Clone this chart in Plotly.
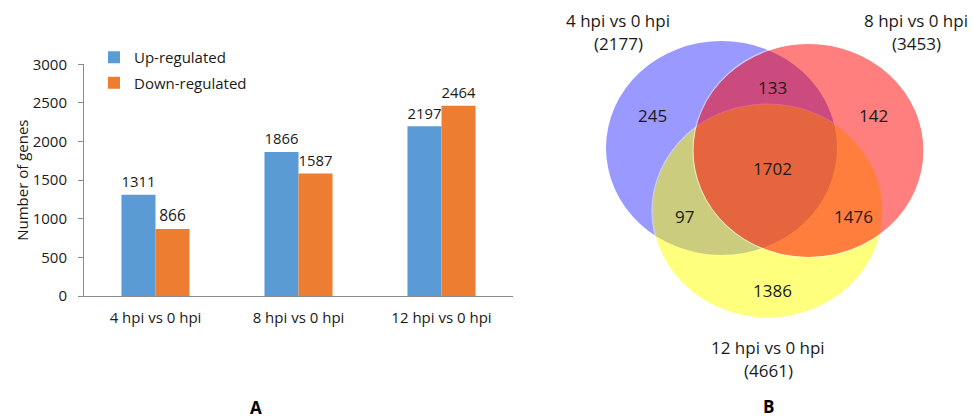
import plotly.graph_objects as go

# ---- Panel A: differentially expressed genes per comparison ----
comparisons = ["4 hpi vs 0 hpi", "8 hpi vs 0 hpi", "12 hpi vs 0 hpi"]
up_regulated = [1311, 1866, 2197]
down_regulated = [866, 1587, 2464]

# ---- Panel B: Venn diagram region counts ----
set_titles = ["4 hpi vs 0 hpi", "8 hpi vs 0 hpi", "12 hpi vs 0 hpi"]
set_totals = [2177, 3453, 4661]
region_names = ["4 only", "8 only", "12 only", "4&8", "4&12", "8&12", "all"]
region_counts = [245, 142, 1386, 133, 97, 1476, 1702]

W, H = 972, 418
FONT = "Open Sans"
TXT = "#1a1a1a"

fig = go.Figure()

fig.add_trace(go.Bar(
    name="Up-regulated", x=comparisons, y=up_regulated,
    marker=dict(color="#5B9BD5", line=dict(width=0)),
    text=up_regulated, textposition="outside", cliponaxis=False,
    textfont=dict(family=FONT, size=15.5, color=TXT),
    legendgroup="up",
))
fig.add_trace(go.Bar(
    name="Down-regulated", x=comparisons, y=down_regulated,
    marker=dict(color="#ED7D31", line=dict(width=0)),
    text=down_regulated, textposition="outside", cliponaxis=False,
    textfont=dict(family=FONT, size=15.5, color=TXT),
    legendgroup="down",
))

axis_grey = "#8a8a8a"
fig.update_layout(
    width=W, height=H,
    margin=dict(l=0, r=0, t=0, b=0, pad=0, autoexpand=False),
    paper_bgcolor="white", plot_bgcolor="white",
    font=dict(family=FONT, size=15, color=TXT),
    barmode="group", bargap=0.524, bargroupgap=0,
    showlegend=True,
    legend=dict(
        x=94 / W, y=1 - 41 / H, xanchor="left", yanchor="top",
        font=dict(family=FONT, size=15, color=TXT),
        bgcolor="rgba(0,0,0,0)", tracegroupgap=3,
    ),
    xaxis=dict(
        domain=[84 / W, 513 / W], range=[-0.5, 2.5],
        showline=True, linecolor=axis_grey, linewidth=1,
        ticks="", showgrid=False, zeroline=False, automargin=False,
        ticklabelstandoff=8,
        tickfont=dict(family=FONT, size=15, color=TXT),
        anchor="y", fixedrange=True,
    ),
    yaxis=dict(
        domain=[1 - 296 / H, 1 - 64.3 / H], range=[0, 3000], dtick=500,
        showline=True, linecolor=axis_grey, linewidth=1,
        ticks="outside", ticklen=5, tickcolor=axis_grey,
        ticklabelstandoff=8,
        showgrid=False, zeroline=False, automargin=False,
        tickfont=dict(family=FONT, size=15, color=TXT),
        title=dict(text="Number of genes", standoff=0,
                   font=dict(family=FONT, size=15, color=TXT)),
        anchor="x", fixedrange=True,
    ),
    # pixel-like frame for the Venn panel
    xaxis2=dict(domain=[560 / W, 1], range=[560, W], visible=False,
                anchor="y2", fixedrange=True, automargin=False),
    yaxis2=dict(domain=[0, 1], range=[H, 0], visible=False,
                anchor="x2", fixedrange=True, automargin=False),
)

# Venn circles (drawn in order blue, yellow, red so blends come out right)
RX, RY = 115.5, 107
circles = [
    dict(cx=721.5, cy=148, color="rgb(0,0,255)", opacity=0.4, line=0),
    dict(cx=767.5, cy=211, color="rgb(255,255,0)", opacity=0.5, line=1.2),
    dict(cx=808.5, cy=150.5, color="rgb(255,0,0)", opacity=0.5, line=1.2),
]
for c in circles:
    fig.add_shape(
        type="circle", xref="x2", yref="y2",
        x0=c["cx"] - RX, x1=c["cx"] + RX, y0=c["cy"] - RY, y1=c["cy"] + RY,
        fillcolor=c["color"], opacity=c["opacity"],
        line=dict(color="white", width=c["line"]),
        layer="above",
    )

# set titles with totals
title_pos = [(618, 20, 43), (916, 20, 43), (768, 347, 370)]
for (tx, ty1, ty2), name, total in zip(title_pos, set_titles, set_totals):
    fig.add_annotation(x=tx, y=ty1, xref="x2", yref="y2", text=name,
                       showarrow=False, font=dict(family=FONT, size=17, color=TXT))
    fig.add_annotation(x=tx, y=ty2, xref="x2", yref="y2", text=f"({total})",
                       showarrow=False, font=dict(family=FONT, size=17, color=TXT))

# region counts
region_pos = {
    "4 only": (652, 115), "8 only": (873, 115), "12 only": (772, 290),
    "4&8": (772, 87), "4&12": (684, 216), "8&12": (853, 216), "all": (772, 168),
}
for name, count in zip(region_names, region_counts):
    px, py = region_pos[name]
    fig.add_annotation(x=px, y=py, xref="x2", yref="y2", text=str(count),
                       showarrow=False, font=dict(family=FONT, size=17, color=TXT))

# panel letters
for letter, lx, ly in [("A", 256, 407), ("B", 768, 406)]:
    fig.add_annotation(x=lx / W, y=1 - ly / H, xref="paper", yref="paper",
                       xanchor="center", yanchor="middle", text=f"<b>{letter}</b>",
                       showarrow=False, font=dict(family=FONT, size=17, color="black"))

fig.write_html("out.html")
